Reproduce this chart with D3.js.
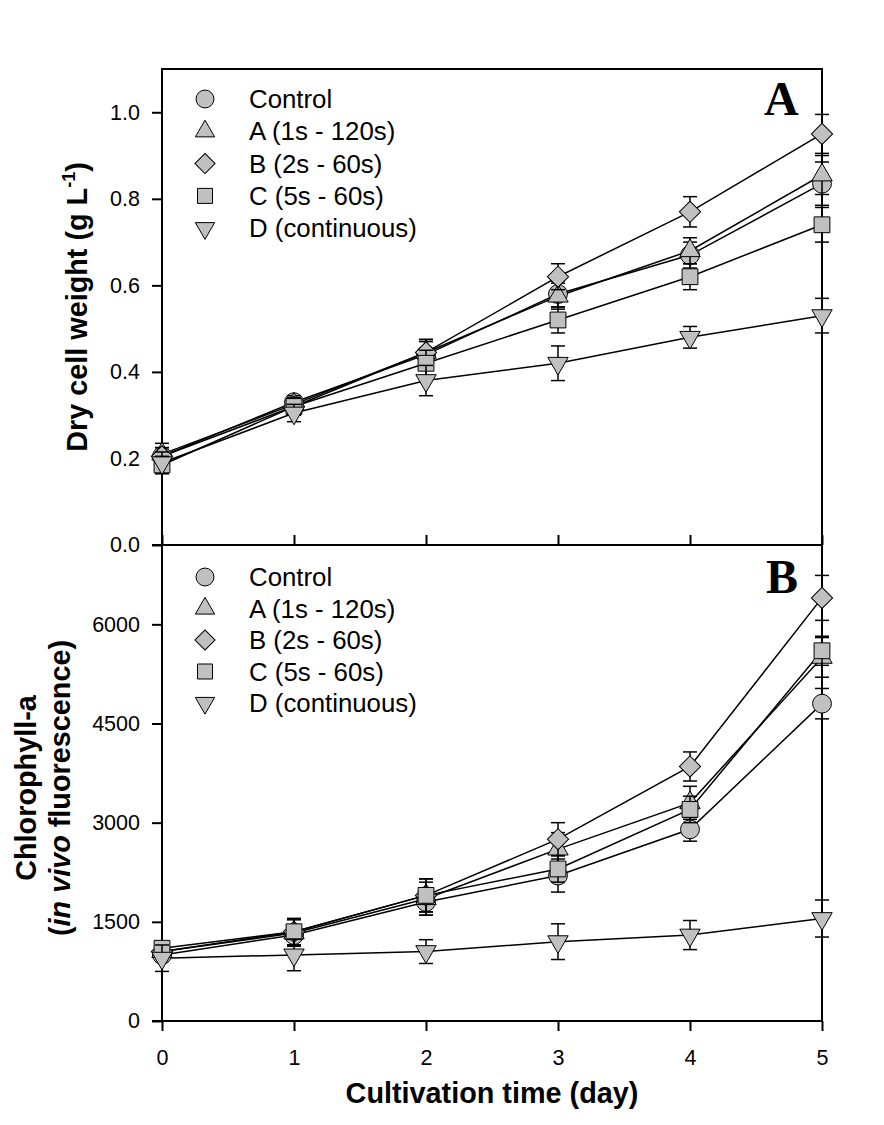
<!DOCTYPE html>
<html>
<head>
<meta charset="utf-8">
<script src="https://cdn.jsdelivr.net/npm/d3@7"></script>
<style>
  html, body { margin: 0; padding: 0; background: #fff; }
  svg { display: block; }
</style>
</head>
<body>
<svg id="chart" width="884" height="1125"></svg>
<script>
// ---------------- DATA ----------------
const days = [0, 1, 2, 3, 4, 5];
const seriesNames = ["Control", "A (1s - 120s)", "B (2s - 60s)", "C (5s - 60s)", "D (continuous)"];

// Panel A: dry cell weight (g L-1)
const dcwControl = [0.205, 0.330, 0.440, 0.580, 0.670, 0.835];
const dcwA       = [0.210, 0.325, 0.445, 0.575, 0.680, 0.855];
const dcwB       = [0.205, 0.320, 0.445, 0.620, 0.770, 0.950];
const dcwC       = [0.185, 0.320, 0.420, 0.520, 0.620, 0.740];
const dcwD       = [0.190, 0.305, 0.380, 0.420, 0.480, 0.530];
const dcwErrControl = [0.020, 0.015, 0.030, 0.030, 0.030, 0.050];
const dcwErrA       = [0.025, 0.020, 0.030, 0.030, 0.030, 0.045];
const dcwErrB       = [0.020, 0.020, 0.030, 0.030, 0.035, 0.045];
const dcwErrC       = [0.020, 0.020, 0.030, 0.030, 0.030, 0.040];
const dcwErrD       = [0.025, 0.020, 0.035, 0.040, 0.025, 0.040];

// Panel B: chlorophyll-a (in vivo fluorescence)
const chlControl = [1000, 1300, 1800, 2200, 2900, 4800];
const chlA       = [1050, 1330, 1850, 2600, 3300, 5500];
const chlB       = [1050, 1350, 1900, 2750, 3850, 6400];
const chlC       = [1100, 1350, 1900, 2300, 3200, 5600];
const chlD       = [950, 1000, 1050, 1200, 1300, 1550];
const chlErrControl = [100, 150, 200, 250, 180, 230];
const chlErrA       = [100, 200, 250, 250, 250, 300];
const chlErrB       = [100, 200, 250, 250, 220, 340];
const chlErrC       = [100, 200, 250, 200, 200, 220];
const chlErrD       = [200, 240, 180, 270, 220, 280];

const xTicks = [0, 1, 2, 3, 4, 5];
const dcwTicks = [0.0, 0.2, 0.4, 0.6, 0.8, 1.0];
const chlTicks = [0, 1500, 3000, 4500, 6000];

// ---------------- LAYOUT ----------------
const svg = d3.select("#chart");
const SANS = "'Liberation Sans', Arial, sans-serif";
const SERIF = "'Liberation Serif', 'Times New Roman', serif";
const X0 = 162, X1 = 822;
const topA = 69, botA = 545, topB = 545, botB = 1021;
const FILL = "#c0c0c0";

const x = d3.scaleLinear().domain([0, 5]).range([X0, X1]);
const yA = d3.scaleLinear().domain([0, 1.1]).range([botA, topA]);
const yB = d3.scaleLinear().domain([0, 7200]).range([botB, topB]);

const shapes = [
  { type: d3.symbolCircle, size: 280, rot: 0 },
  { type: d3.symbolTriangle, size: 180, rot: 0 },
  { type: d3.symbolSquare, size: 225, rot: 45 },
  { type: d3.symbolSquare, size: 250, rot: 0 },
  { type: d3.symbolTriangle, size: 180, rot: 180 }
];

function symbolPath(i, k) {
  return d3.symbol().type(shapes[i].type).size(shapes[i].size * (k || 1))();
}

function drawPanel(y, vals, errs, ticks, fmt, opts) {
  const g = svg.append("g");

  // y axis
  const ya = d3.axisLeft(y).tickValues(ticks).tickFormat(fmt)
    .tickSize(10).tickSizeOuter(0).tickPadding(12);
  const yg = g.append("g").attr("transform", `translate(${X0},0)`).call(ya);
  yg.select(".domain").remove();
  yg.selectAll(".tick line").attr("stroke", "#000").attr("stroke-width", 2);
  yg.selectAll(".tick text")
    .style("font-size", "21.5px").style("font-family", SANS).attr("fill", "#000");

  // x axis ticks
  const xa = d3.axisBottom(x).tickValues(xTicks).tickSizeOuter(0);
  if (opts.labels) {
    xa.tickSize(10).tickPadding(19).tickFormat(d3.format("d"));
  } else {
    xa.tickSize(-10).tickFormat("");
  }
  const xg = g.append("g").attr("transform", `translate(0,${y.range()[0]})`).call(xa);
  xg.select(".domain").remove();
  xg.selectAll(".tick line").attr("stroke", "#000").attr("stroke-width", 2);
  xg.selectAll(".tick text")
    .style("font-size", "21.5px").style("font-family", SANS).attr("fill", "#000");

  // frame
  const yTop = y.range()[1], yBot = y.range()[0];
  g.append("line").attr("x1", X0).attr("x2", X0).attr("y1", yTop - 1).attr("y2", yBot + 1)
    .attr("stroke", "#000").attr("stroke-width", 2);
  g.append("line").attr("x1", X1).attr("x2", X1).attr("y1", yTop - 1).attr("y2", yBot + 1)
    .attr("stroke", "#000").attr("stroke-width", 2);
  g.append("line").attr("x1", X0 - 10).attr("x2", X1 + 1).attr("y1", yBot).attr("y2", yBot)
    .attr("stroke", "#000").attr("stroke-width", 2);
  if (opts.topBorder) {
    g.append("line").attr("x1", X0 - 1).attr("x2", X1 + 1).attr("y1", yTop).attr("y2", yTop)
      .attr("stroke", "#000").attr("stroke-width", 2);
  }

  // series lines
  const line = d3.line().x((d, i) => x(days[i])).y(d => y(d));
  vals.forEach(v => {
    g.append("path").attr("d", line(v)).attr("fill", "none")
      .attr("stroke", "#000").attr("stroke-width", 1.5);
  });

  // error bars + markers
  const cap = 7;
  vals.forEach((v, s) => {
    const sg = g.append("g");
    v.forEach((val, i) => {
      const cx = x(days[i]);
      const y1 = y(val + errs[s][i]), y2 = y(val - errs[s][i]);
      sg.append("line").attr("x1", cx).attr("x2", cx).attr("y1", y1).attr("y2", y2)
        .attr("stroke", "#000").attr("stroke-width", 1.5);
      [y1, y2].forEach(yy => {
        sg.append("line").attr("x1", cx - cap).attr("x2", cx + cap).attr("y1", yy).attr("y2", yy)
          .attr("stroke", "#000").attr("stroke-width", 1.5);
      });
    });
    v.forEach((val, i) => {
      sg.append("path").attr("d", symbolPath(s))
        .attr("transform", `translate(${x(days[i])},${y(val)}) rotate(${shapes[s].rot})`)
        .attr("fill", FILL).attr("stroke", "#000").attr("stroke-width", 1);
    });
  });

  // legend
  const lg = g.append("g");
  seriesNames.forEach((name, s) => {
    const cy = opts.legendY + s * opts.legendStep;
    lg.append("path").attr("d", symbolPath(s, 0.9))
      .attr("transform", `translate(205,${cy}) rotate(${shapes[s].rot})`)
      .attr("fill", FILL).attr("stroke", "#000").attr("stroke-width", 1);
    lg.append("text").text(name)
      .attr("x", 249).attr("y", cy + 9)
      .style("font-family", SANS).style("font-size", "25.8px");
  });

  // panel letter
  g.append("text").text(opts.letter)
    .attr("x", opts.letterX).attr("y", opts.letterY)
    .style("font-family", SERIF).style("font-weight", "bold").style("font-size", "48px");
}

const dcwVals = [dcwControl, dcwA, dcwB, dcwC, dcwD];
const dcwErrs = [dcwErrControl, dcwErrA, dcwErrB, dcwErrC, dcwErrD];
const chlVals = [chlControl, chlA, chlB, chlC, chlD];
const chlErrs = [chlErrControl, chlErrA, chlErrB, chlErrC, chlErrD];

drawPanel(yA, dcwVals, dcwErrs, dcwTicks, d3.format(".1f"),
  { labels: false, topBorder: true, legendY: 99, legendStep: 32.3, letter: "A", letterX: 764, letterY: 115 });
drawPanel(yB, chlVals, chlErrs, chlTicks, d3.format("d"),
  { labels: true, topBorder: false, legendY: 577, legendStep: 31.5, letter: "B", letterX: 766, letterY: 593 });

// axis titles
const TS = 28.8;
const t1 = svg.append("text")
  .attr("transform", `translate(87,${(topA + botA) / 2}) rotate(-90)`)
  .attr("text-anchor", "middle")
  .style("font-family", SANS).style("font-weight", "bold").style("font-size", TS + "px");
t1.append("tspan").text("Dry cell weight (g L");
t1.append("tspan").text("-1").style("font-size", "18px").attr("dy", -12);
t1.append("tspan").text(")").attr("dy", 12);

const t2 = svg.append("g").attr("transform", `translate(0,${(topB + botB) / 2 + 5}) rotate(-90)`);
t2.append("text").attr("x", 0).attr("y", 36).attr("text-anchor", "middle")
  .style("font-family", SANS).style("font-weight", "bold").style("font-size", TS + "px")
  .text("Chlorophyll-a");
const t2b = t2.append("text").attr("x", 0).attr("y", 70).attr("text-anchor", "middle")
  .style("font-family", SANS).style("font-weight", "bold").style("font-size", TS + "px");
t2b.append("tspan").text("(");
t2b.append("tspan").text("in vivo").style("font-style", "italic");
t2b.append("tspan").text(" fluorescence)");

svg.append("text").text("Cultivation time (day)")
  .attr("x", 492).attr("y", 1103)
  .attr("text-anchor", "middle")
  .style("font-family", SANS).style("font-weight", "bold").style("font-size", TS + "px");
</script>
</body>
</html>
